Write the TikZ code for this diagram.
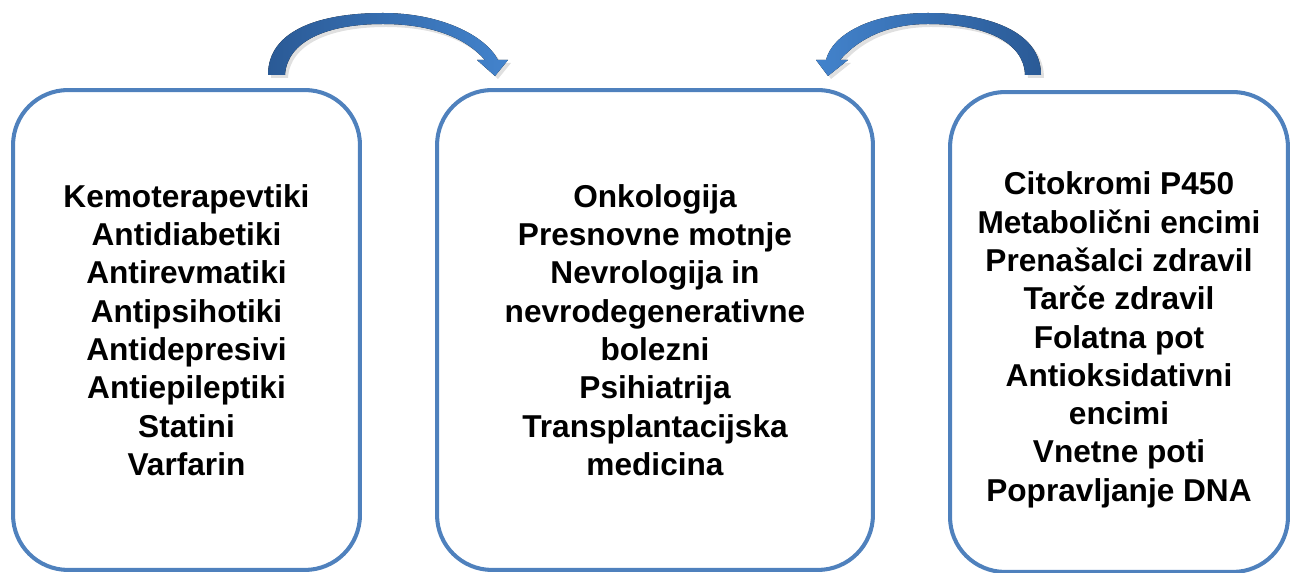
\documentclass[tikz,border=0pt]{standalone}
\usepackage{fontspec}
\setmainfont{Liberation Sans}
\usepackage{xcolor}
\usepackage{tikz}
\definecolor{okvir}{HTML}{4F81BD}
\definecolor{svetla}{HTML}{4383CC}
\definecolor{temna}{HTML}{2A5A96}
\tikzset{
  skatla/.style={draw=okvir, line width=2.3pt, rounded corners=1.1cm,
    minimum height=9.6cm, align=center,
    font=\bfseries\fontsize{18}{21.8}\selectfont},
  lokdesno/.style={left color=temna, right color=svetla},
  loklevo/.style={left color=svetla, right color=temna},
  senca/.style={fill=black, opacity=0.12}
}

\begin{document}
\begin{tikzpicture}[x=0.02cm, y=-0.02cm]
  \useasboundingbox (0,0) rectangle (1292,573);

  \node[skatla, minimum width=6.94cm] (zdravila) at (186.5,330)
    {Kemoterapevtiki\\Antidiabetiki\\Antirevmatiki\\Antipsihotiki\\Antidepresivi\\Antiepileptiki\\Statini\\Varfarin};
  \node[skatla, minimum width=8.72cm] (podrocja) at (655,330)
    {Onkologija\\Presnovne motnje\\Nevrologija in\\nevrodegenerativne\\bolezni\\Psihiatrija\\Transplantacijska\\medicina};
  \node[skatla, minimum width=6.76cm] (geni) at (1119,332)
    {\rule{0pt}{22pt}Citokromi P450\\Metabolični encimi\\Prenašalci zdravil\\Tarče zdravil\\Folatna pot\\Antioksidativni\\encimi\\Vnetne poti\\Popravljanje DNA};

  % puscica nad levo skatlo
  \fill[senca] (271,78) .. controls (271,33) and (323,16) .. (386,16)
    .. controls (443,16) and (488,38) .. (501,63)
    -- (511,63) -- (498,79) -- (480,63) -- (488,63)
    .. controls (468,40) and (433,27) .. (386,27)
    .. controls (328,27) and (290,45) .. (288,78) -- cycle;
  \fill[lokdesno] (268,75) .. controls (268,30) and (320,13) .. (383,13)
    .. controls (440,13) and (485,35) .. (498,60)
    -- (508,60) -- (495,76) -- (477,60) -- (485,60)
    .. controls (465,37) and (430,24) .. (383,24)
    .. controls (325,24) and (287,42) .. (285,75) -- cycle;

  % puscica nad desno skatlo
  \fill[senca] (1044,78) .. controls (1044,33) and (988,16) .. (931,16)
    .. controls (873,16) and (835,38) .. (829,63)
    -- (819,63) -- (831,79) -- (851,63) -- (843,63)
    .. controls (863,40) and (893,27) .. (931,27)
    .. controls (988,27) and (1027,45) .. (1028,78) -- cycle;
  \fill[loklevo] (1041,75) .. controls (1041,30) and (985,13) .. (928,13)
    .. controls (870,13) and (832,35) .. (826,60)
    -- (816,60) -- (828,76) -- (848,60) -- (840,60)
    .. controls (860,37) and (890,24) .. (928,24)
    .. controls (985,24) and (1024,42) .. (1025,75) -- cycle;
\end{tikzpicture}
\end{document}
